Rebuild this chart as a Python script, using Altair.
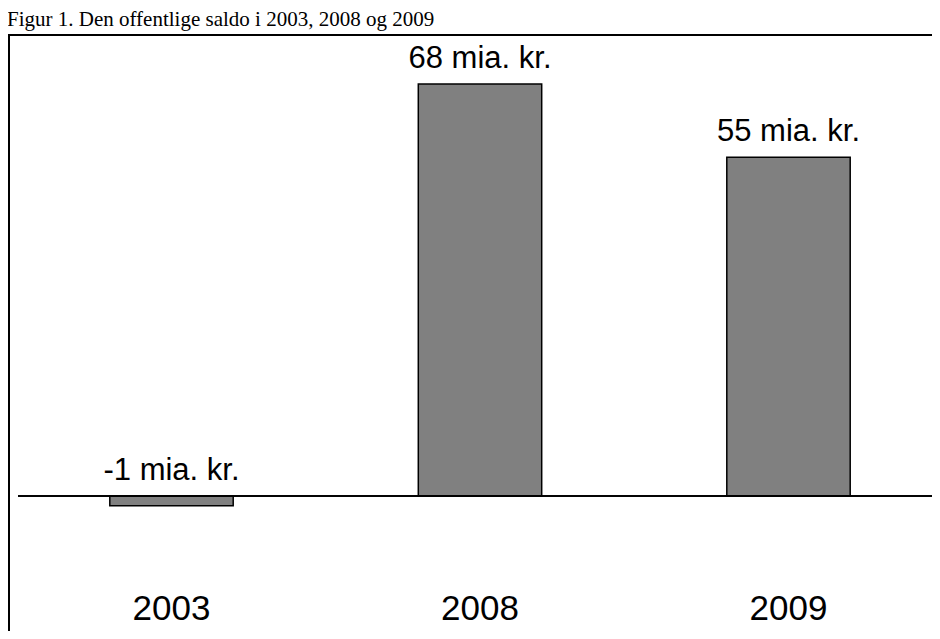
import altair as alt
import pandas as pd

title_text = "Figur 1. Den offentlige saldo i 2003, 2008 og 2009"
years = ["2003", "2008", "2009"]
values = [-1.6, 68.0, 55.9]          # bar heights as drawn (mia. kr.)
labels = ["-1 mia. kr.", "68 mia. kr.", "55 mia. kr."]

df = pd.DataFrame({"year": years, "value": values, "label": labels})

T = 26                 # room for the title
W, H = 924, 554
zero_y = 488 - T       # zero line, in plot coordinates
k = 6.059
y_dom = [-(H - zero_y) / k, zero_y / k]

x_enc = alt.X("year:N", sort=years,
              scale=alt.Scale(range=[9.25, 934.75], paddingInner=0.6,
                              paddingOuter=0.3, round=False),
              axis=alt.Axis(title=None, domain=False, ticks=False, tickSize=0,
                            labelPadding=611 - T - H, labelBaseline="alphabetic",
                            labelFont="Liberation Sans", labelFontSize=35,
                            labelColor="black", labelAngle=0, grid=False))
y_scale = alt.Scale(domain=y_dom, nice=False, zero=False)

base = alt.Chart(df).transform_calculate(zero="0", pos="max(datum.value, 0)")

frame_top = base.mark_rule(color="black", strokeWidth=2).encode(
    x=alt.value(0), x2=alt.value(W), y=alt.value(1)
)
frame_left = base.mark_rule(color="black", strokeWidth=2).encode(
    x=alt.value(1), y=alt.value(0), y2=alt.value(H + 60)
)

bars = base.mark_bar(color="#808080", stroke="black", strokeWidth=1.5).encode(
    x=x_enc,
    y=alt.Y("value:Q", scale=y_scale, axis=None),
    y2="zero:Q",
)

zero = base.mark_rule(color="black", strokeWidth=1.5).encode(
    x=alt.value(10), x2=alt.value(W), y=alt.Y("zero:Q", scale=y_scale, axis=None)
)

text = base.mark_text(font="Liberation Sans", fontSize=31, color="black",
                      baseline="alphabetic", align="center", dy=-16).encode(
    x=alt.X("year:N", sort=years),
    y=alt.Y("pos:Q", scale=y_scale, axis=None),
    text="label:N",
)

chart = alt.layer(frame_top, frame_left, bars, zero, text).properties(
    width=W, height=H,
    autosize=alt.AutoSizeParams(type="none"),
    padding={"top": T, "left": 0, "right": 0, "bottom": 623 - H - T},
    title=alt.TitleParams(title_text, anchor="start", font="Liberation Serif",
                          fontSize=21, fontWeight="normal", color="black",
                          offset=3),
    background="white",
).configure_view(stroke=None)

chart.save("out.html", embed_options={"renderer": "svg", "actions": False})
